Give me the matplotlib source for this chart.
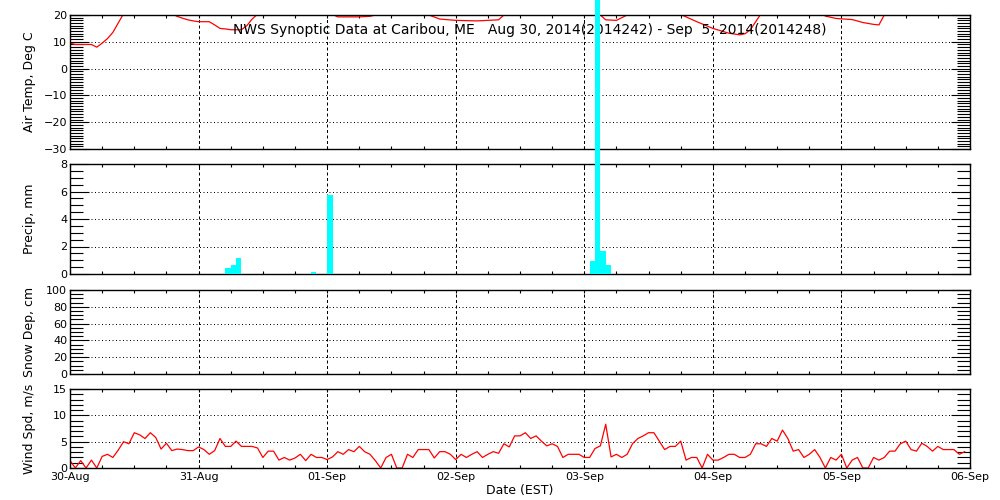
import numpy as np
import matplotlib
matplotlib.use("Agg")
import matplotlib.pyplot as plt
from matplotlib.ticker import MultipleLocator

# time axis: days since 30-Aug-2014 00 EST
day_labels = ["30-Aug", "31-Aug", "01-Sep", "02-Sep", "03-Sep", "04-Sep", "05-Sep", "06-Sep"]

# air temperature (hour, deg C) - values above 20 are off the panel
temp_hours = [0, 1, 2, 3, 4, 5, 6, 7, 8, 9, 10, 11, 12, 13, 14, 15, 16, 17, 18,
              19, 20, 21, 22, 23, 24, 26, 27, 28, 29, 30, 32, 33, 34, 35, 36, 38,
              40, 42, 44, 46, 48, 49, 50, 52, 54, 56, 57, 60, 63, 66, 67, 69, 72,
              76, 80, 81, 84, 87, 90, 93, 96, 98, 99, 100, 102, 104, 106, 109,
              112, 114, 115, 117, 120, 123, 125, 126, 127, 128, 129, 131, 134,
              136, 138, 140, 141, 143, 146, 148, 150, 151, 152, 154, 157, 160,
              163, 166, 168]
temp_vals = [9.5, 9.0, 9.0, 9.0, 9.0, 8.0, 9.5, 11.2, 13.5, 17.0, 20.5, 22.0, 24.0,
             25.0, 25.5, 25.0, 24.0, 22.5, 21.0, 20.5, 19.5, 18.8, 18.2, 17.8, 17.5,
             17.5, 16.3, 15.0, 14.8, 14.5, 14.5, 16.0, 18.5, 20.3, 22.0, 24.5, 26.0,
             25.0, 24.0, 22.5, 21.0, 20.2, 19.3, 19.3, 19.3, 19.5, 20.0, 21.5, 22.5,
             21.0, 20.0, 18.5, 18.0, 17.8, 18.2, 20.0, 23.0, 26.0, 27.0, 26.0, 23.0,
             21.0, 20.0, 18.2, 18.0, 20.0, 22.0, 23.5, 22.0, 20.2, 19.3, 17.5, 15.0,
             13.2, 12.6, 13.0, 14.5, 17.5, 20.5, 23.0, 25.0, 25.5, 24.0, 21.0, 19.6,
             18.7, 18.3, 17.2, 16.5, 16.3, 20.0, 22.5, 24.5, 25.5, 24.0, 22.5, 21.0]

# hourly precipitation (start hour, mm)
precip_hours = [29, 30, 31, 45, 48, 97, 98, 99, 100]
precip_vals = [0.41, 0.66, 1.14, 0.15, 5.78, 0.95, 25.0, 1.68, 0.66]

# hourly wind speed (m/s), starting at hour 0
wind_vals = [1.4, 0.0, 1.4, 0.0, 1.5, 0.0, 2.2, 2.6, 2.0, 3.4, 5.0, 4.6, 6.7, 6.3,
             5.6, 6.7, 5.8, 3.6, 4.7, 3.3, 3.6, 3.5, 3.3, 3.3, 4.0, 3.5, 2.6, 3.3,
             5.6, 4.1, 4.1, 5.1, 4.1, 4.1, 4.1, 3.8, 2.0, 3.2, 3.2, 1.5, 2.0, 1.5,
             1.9, 2.6, 1.4, 2.6, 2.0, 2.0, 1.6, 2.1, 3.1, 2.6, 3.5, 3.1, 4.1, 3.1,
             2.6, 1.4, 0.0, 2.0, 2.6, 0.0, 0.0, 2.6, 2.0, 3.5, 3.5, 3.5, 1.9, 3.1,
             3.1, 2.6, 1.6, 2.6, 2.0, 2.6, 3.1, 2.0, 2.6, 3.1, 2.8, 4.6, 4.0, 6.1,
             6.1, 6.7, 5.6, 6.1, 5.1, 4.2, 4.6, 4.1, 2.0, 2.6, 2.6, 2.6, 2.0, 2.0,
             3.7, 4.2, 8.3, 2.1, 2.6, 2.0, 2.6, 4.6, 5.6, 6.1, 6.7, 6.7, 5.1, 3.5,
             4.1, 4.1, 5.1, 1.5, 2.0, 2.0, 0.0, 2.6, 1.5, 1.5, 2.0, 2.6, 2.6, 2.0,
             2.0, 2.6, 4.6, 4.6, 4.1, 5.6, 5.1, 7.2, 5.6, 3.2, 3.5, 2.0, 2.6, 3.5,
             2.0, 0.0, 2.0, 1.5, 2.6, 0.0, 1.5, 2.0, 0.0, 0.0, 2.0, 1.5, 2.0, 3.2,
             3.2, 4.6, 5.1, 3.5, 3.2, 4.7, 4.1, 3.2, 4.1, 3.5, 3.5, 3.5, 2.6, 3.1]

title = "NWS Synoptic Data at Caribou, ME   Aug 30, 2014(2014242) - Sep  5, 2014(2014248)"

plt.rcParams['font.family'] = ['DejaVu Sans']
fig = plt.figure(figsize=(10, 5), dpi=100)

panels = [
    # rect, ylim, major, minor, label
    ([0.07, 0.702, 0.90, 0.268], (-30, 20), 10, 1, "Air Temp, Deg C"),
    ([0.07, 0.452, 0.90, 0.220], (0, 8), 2, 0.5, "Precip, mm"),
    ([0.07, 0.252, 0.90, 0.168], (0, 100), 20, 5, "Snow Dep, cm"),
    ([0.07, 0.064, 0.90, 0.158], (0, 15), 5, 1, "Wind Spd, m/s"),
]

axes = []
for rect, ylim, major, minor, label in panels:
    ax = fig.add_axes(rect)
    ax.set_xlim(0, 7)
    ax.set_ylim(*ylim)
    ax.xaxis.set_major_locator(MultipleLocator(1))
    ax.xaxis.set_minor_locator(MultipleLocator(0.25))
    ax.yaxis.set_major_locator(MultipleLocator(major))
    ax.yaxis.set_minor_locator(MultipleLocator(minor))
    ax.tick_params(axis='y', which='major', direction='in', left=True, right=True,
                   length=13.5, width=0.8, labelsize=8, pad=2)
    ax.tick_params(axis='y', which='minor', direction='in', left=True, right=True,
                   length=9.5, width=0.8)
    ax.tick_params(axis='x', which='both', direction='in', top=True, bottom=True,
                   length=2.5, width=0.8, labelsize=8, pad=3)
    for s in ax.spines.values():
        s.set_linewidth(1.0)
    # interior grid lines
    for d in range(1, 7):
        ax.axvline(d, color='k', lw=0.72, ls=(0, (3, 2.5)), zorder=1)
    for v in np.arange(ylim[0] + major, ylim[1], major):
        ax.axhline(v, color='k', lw=0.72, ls=(0, (1, 2.5)), zorder=1)
    ax.set_ylabel(label, fontsize=9)
    ax.yaxis.set_label_coords(-0.038, 0.5)
    ax.set_xticklabels([])
    axes.append(ax)

ax_t, ax_p, ax_s, ax_w = axes

ax_t.plot(np.array(temp_hours) / 24.0, temp_vals, color='red', lw=0.9, zorder=2)
ax_t.text(0.511, 0.885, title, transform=ax_t.transAxes, ha='center', va='center',
          fontsize=10)

ax_p.bar(np.array(precip_hours) / 24.0, precip_vals, width=1 / 24.0, align='edge',
         color='#00ffff', edgecolor='none', zorder=3, clip_on=False)

ax_w.plot(np.arange(len(wind_vals)) / 24.0, wind_vals, color='red', lw=0.9,
          zorder=2)
ax_w.set_xticks(range(8))
ax_w.set_xticklabels(day_labels)
ax_w.set_xlabel("Date (EST)", fontsize=9, labelpad=1)

fig.savefig("out.png", dpi=100)
